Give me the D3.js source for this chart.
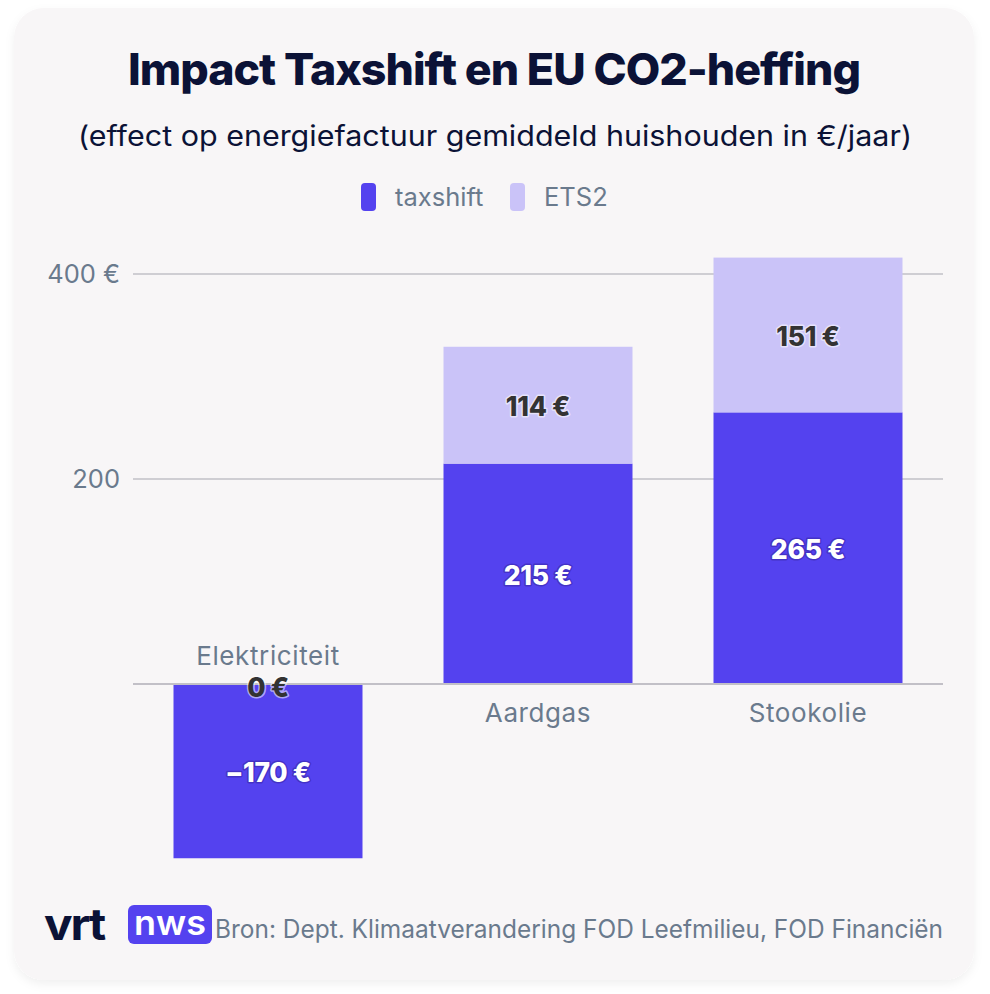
<!DOCTYPE html>
<html><head><meta charset="utf-8">
<script src="https://cdn.jsdelivr.net/npm/d3@7"></script>
<style>
html,body{margin:0;padding:0;background:#fff;}
svg{display:block;}
</style></head>
<body>
<script>
const categories = ["Elektriciteit", "Aardgas", "Stookolie"];
const taxshift = [-170, 215, 265];
const ets2 = [0, 114, 151];
const seriesNames = ["taxshift", "ETS2"];
const yTicks = [200, 400];
const yTickLabels = ["200", "400 €"];
const title = "Impact Taxshift en EU CO2-heffing";
const subtitle = "(effect op energiefactuur gemiddeld huishouden in €/jaar)";
const source = "Bron: Dept. Klimaatverandering FOD Leefmilieu, FOD Financiën";

const W = 990, H = 994;
const colors = {taxshift: "#5442EF", ETS2: "#CAC3F8"};
const font = "Inter, 'Noto Sans', sans-serif";

const svg = d3.select("body").append("svg").attr("width", W).attr("height", H);

const defs = svg.append("defs");
const f = defs.append("filter").attr("id","shadow").attr("x","-10%").attr("y","-10%").attr("width","120%").attr("height","125%");
f.append("feDropShadow").attr("dx",0).attr("dy",4).attr("stdDeviation",5).attr("flood-color","#000").attr("flood-opacity",0.06);

svg.append("rect").attr("x",14).attr("y",8).attr("width",960).attr("height",972).attr("rx",30)
  .attr("fill","#F8F6F7").attr("filter","url(#shadow)");

// Title
svg.append("text").attr("x",128).attr("y",85)
  .attr("font-family",font).attr("font-weight",800).attr("font-size",44).attr("letter-spacing",-1)
  .attr("textLength",732).attr("lengthAdjust","spacingAndGlyphs")
  .attr("fill","#0B1236").text(title);
svg.append("text").attr("x",78).attr("y",146)
  .attr("font-family",font).attr("font-size",28).attr("fill","#0B1236")
  .attr("textLength",834).attr("lengthAdjust","spacingAndGlyphs").text(subtitle);

// Legend
const legend = svg.append("g");
const legItems = [{name:"taxshift", x:361}, {name:"ETS2", x:510}];
legItems.forEach(d=>{
  legend.append("rect").attr("x",d.x).attr("y",183).attr("width",15).attr("height",28).attr("rx",4).attr("fill",colors[d.name]);
  legend.append("text").attr("x",d.x+34).attr("y",206).attr("font-family",font).attr("font-size",25.5)
    .attr("fill","#6A7A8D").text(d.name);
});

// Scales
const x = d3.scaleBand().domain(categories).range([133,943]).paddingInner(0.3).paddingOuter(0.15);
const y = d3.scaleLinear().domain([0,400]).range([684,274]);

// Grid
const grid = svg.append("g");
grid.selectAll("line").data(yTicks).join("line")
  .attr("x1",133).attr("x2",943).attr("y1",d=>y(d)).attr("y2",d=>y(d))
  .attr("stroke","#C2C0C7").attr("stroke-width",1.5);

// Y axis labels
const yAxis = d3.axisLeft(y).tickValues(yTicks).tickSize(0).tickPadding(0)
  .tickFormat((d,i)=>yTickLabels[i]);
const ya = svg.append("g").attr("transform","translate(120,0)").call(yAxis);
ya.select(".domain").remove();
ya.selectAll("text").attr("font-family",font).attr("font-size",25.5).attr("fill","#6A7A8D").attr("dy","0.34em");

// Stacks
const data = categories.map((c,i)=>({cat:c, taxshift:taxshift[i], ETS2:ets2[i]}));
const bars = [];
data.forEach(d=>{
  const t0 = 0, t1 = d.taxshift;
  const e0 = d.taxshift > 0 ? d.taxshift : 0, e1 = e0 + d.ETS2;
  bars.push({cat:d.cat, key:"taxshift", v:d.taxshift, y0:Math.min(t0,t1), y1:Math.max(t0,t1)});
  bars.push({cat:d.cat, key:"ETS2", v:d.ETS2, y0:e0, y1:e1});
});
svg.append("g").selectAll("rect").data(bars).join("rect")
  .attr("x",d=>x(d.cat)).attr("width",x.bandwidth())
  .attr("y",d=>y(d.y1)).attr("height",d=>y(d.y0)-y(d.y1))
  .attr("fill",d=>colors[d.key]);

// Zero line
svg.append("line").attr("x1",133).attr("x2",943).attr("y1",y(0)).attr("y2",y(0))
  .attr("stroke","#C2C0C7").attr("stroke-width",2);

// Category labels
svg.append("g").selectAll("text").data(data).join("text")
  .attr("x",d=>x(d.cat)+x.bandwidth()/2)
  .attr("y",d=>d.taxshift<0 ? y(0)-19 : y(0)+38)
  .attr("text-anchor","middle").attr("font-family",font).attr("font-size",26).attr("letter-spacing",0.6)
  .attr("fill","#6A7A8D")
  .text(d=>d.cat);

// Value labels
const fmt = v => (v<0 ? "\u2212" + Math.abs(v) : v) + " €";
const lab = svg.append("g");
bars.forEach(b=>{
  const cy = (y(b.y0)+y(b.y1))/2;
  const dark = b.key==="taxshift";
  const zero = b.y0===b.y1;
  lab.append("text").attr("x",x(b.cat)+x.bandwidth()/2).attr("y",cy + (zero ? 13 : 11))
    .attr("text-anchor","middle").attr("font-family",font).attr("font-weight",800).attr("font-size",26.5)
    .attr("letter-spacing",-0.3)
    .attr("fill",dark?"#FFFFFF":"#333333")
    .attr("stroke",dark?"rgba(40,20,120,0.35)":"rgba(255,255,255,0.55)").attr("stroke-width",3)
    .attr("paint-order","stroke").attr("stroke-linejoin","round")
    .text(fmt(b.v));
});

// Footer logo
svg.append("text").attr("x",44).attr("y",940).attr("font-family",font).attr("font-weight",700)
  .attr("font-size",44).attr("letter-spacing",-2).attr("fill","#0B1236")
  .attr("textLength",60).attr("lengthAdjust","spacingAndGlyphs").text("vrt");
svg.append("rect").attr("x",128).attr("y",905).attr("width",84).attr("height",39).attr("rx",6).attr("fill","#5442EF");
svg.append("text").attr("x",134).attr("y",935).attr("font-family",font)
  .attr("font-weight",600).attr("font-size",34).attr("fill","#fff")
  .attr("textLength",72).attr("lengthAdjust","spacingAndGlyphs").text("nws");
svg.append("text").attr("x",215).attr("y",938).attr("font-family",font).attr("font-size",25)
  .attr("textLength",728).attr("lengthAdjust","spacingAndGlyphs")
  .attr("fill","#6A7A8D").text(source);
</script>
</body></html>
